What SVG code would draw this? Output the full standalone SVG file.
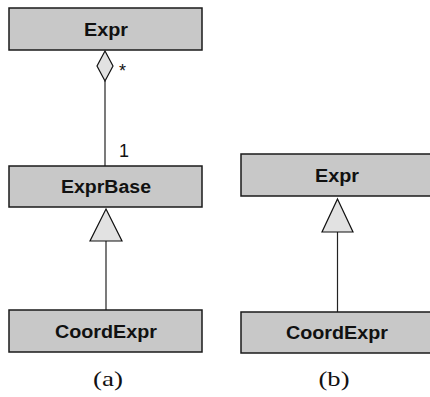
<svg xmlns="http://www.w3.org/2000/svg" width="430" height="397" viewBox="0 0 430 397">
<style>
.box{fill:#c8c8c8;stroke:#1a1a1a;stroke-width:1.5}
.lbl{font-family:"Liberation Sans",Arial,Helvetica,sans-serif;font-weight:bold;font-size:18px;text-anchor:middle;fill:#111}
.edge{stroke:#222;stroke-width:1.2;fill:none}
.head{fill:#e2e2e2;stroke:#111;stroke-width:1.2}
.mult{font-family:"Liberation Sans",Arial,Helvetica,sans-serif;font-size:18px;fill:#111}
.cap{font-family:"Liberation Serif","Times New Roman",serif;font-size:22px;text-anchor:middle;fill:#111}
</style>
<rect width="430" height="397" fill="#fff"/>
<g id="connectors">
<line class="edge" x1="105" y1="81" x2="105" y2="166"/>
<polygon class="head" points="105,51 113,66 105,81 97,66"/>
<text class="mult" x="119" y="77">*</text>
<text class="mult" x="119" y="157">1</text>
<line class="edge" x1="106" y1="241" x2="106" y2="310"/>
<polygon class="head" points="106,209 122,241 90,241"/>
<line class="edge" x1="337.5" y1="232" x2="337.5" y2="312"/>
<polygon class="head" points="337.5,199 353,232 322,232"/>
</g>
<g id="a-expr"><rect class="box" x="9" y="8" width="193" height="42"/><text class="lbl" x="106" y="36" textLength="44" lengthAdjust="spacingAndGlyphs">Expr</text></g>
<g id="a-exprbase"><rect class="box" x="9" y="166" width="193" height="41"/><text class="lbl" x="106" y="193" textLength="90" lengthAdjust="spacingAndGlyphs">ExprBase</text></g>
<g id="a-coordexpr"><rect class="box" x="9" y="310" width="193" height="42"/><text class="lbl" x="106" y="338" textLength="102" lengthAdjust="spacingAndGlyphs">CoordExpr</text></g>
<g id="b-expr"><rect class="box" x="241" y="154" width="192" height="42"/><text class="lbl" x="337" y="182" textLength="44" lengthAdjust="spacingAndGlyphs">Expr</text></g>
<g id="b-coordexpr"><rect class="box" x="241" y="312" width="192" height="41"/><text class="lbl" x="337" y="339" textLength="102" lengthAdjust="spacingAndGlyphs">CoordExpr</text></g>
<text class="cap" x="108" y="386" textLength="30" lengthAdjust="spacingAndGlyphs">(a)</text>
<text class="cap" x="334" y="386" textLength="31" lengthAdjust="spacingAndGlyphs">(b)</text>
</svg>
